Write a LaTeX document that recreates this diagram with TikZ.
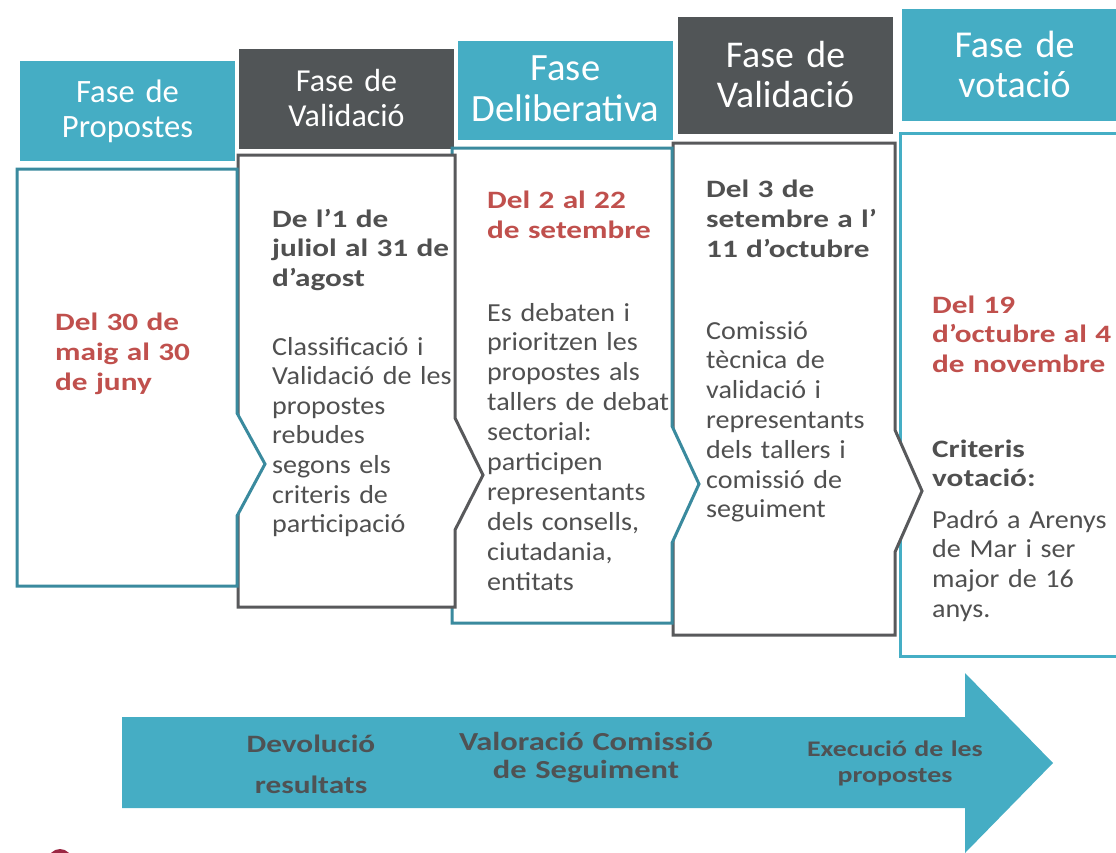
\documentclass[tikz,border=0pt]{standalone}
\usepackage{fontspec}
\setmainfont{Carlito}[UprightFeatures={FakeStretch=1.08},BoldFeatures={FakeStretch=1.25}]
\newfontfamily\hfont{Carlito}
\definecolor{hteal}{HTML}{45ADC4}
\definecolor{hgray}{HTML}{515557}
\definecolor{oteal}{HTML}{3A8A9E}
\definecolor{lteal}{HTML}{45AEC5}
\definecolor{ogray}{HTML}{58595B}
\definecolor{tred}{HTML}{C0504D}
\definecolor{tgray}{HTML}{505050}
\definecolor{agray}{HTML}{4F5254}
\definecolor{maroon}{HTML}{9B2743}
\begin{document}
\begin{tikzpicture}[x=1pt,y=-1pt,
  hbox/.style={rectangle, inner sep=0, outer sep=0, minimum width=215pt, minimum height=100pt},
  htext/.style={text=white, anchor=base, align=center, text width=230pt, inner sep=0},
  body/.style={line width=3pt, fill=white, line join=miter},
  btext/.style={anchor=base west, align=left, text width=230pt, inner sep=0, text=tgray},
  rtext/.style={anchor=base west, align=left, text width=230pt, inner sep=0, text=tred},
  atext/.style={anchor=base, align=center, text width=300pt, inner sep=0, text=agray}]
\useasboundingbox (0,0) rectangle (1116,852);

% headers
\node[hbox, fill=hteal] (h1) at (127.5,111) {};
\node[hbox, fill=hgray] (h2) at (346.5,99) {};
\node[hbox, fill=hteal, minimum height=99pt] (h3) at (565.5,90.5) {};
\node[hbox, fill=hgray, minimum height=117pt] (h4) at (785.5,75.5) {};
\node[hbox, fill=hteal, minimum width=218pt, minimum height=112pt] (h5) at (1011,65) {};

\node[htext, font=\hfont\fontsize{32.6}{35}\selectfont] (h1t) at (127.5,102) {Fase de\\Propostes};
\node[htext, font=\hfont\fontsize{32}{35}\selectfont] (h2t) at (346.5,91) {Fase de\\Validació};
\node[htext, font=\hfont\fontsize{38.6}{41}\selectfont] (h3t) at (565.5,80) {Fase\\Deliberativa};
\node[htext, font=\hfont\fontsize{37.8}{40}\selectfont] (h4t) at (785.5,67) {Fase de\\Validació};
\node[htext, font=\hfont\fontsize{38}{40}\selectfont] (h5t) at (1014.5,57) {Fase de\\votació};

% bodies (drawn right to left so earlier ones lie on top)
\path[body, draw=lteal] (1122,133) -- (900,133) -- (900,656) -- (1122,656);
\path[body, draw=ogray] (673,143) -- (895,143) -- (895,430) -- (922,491) -- (895,552) -- (895,635) -- (673,635) -- cycle;
\path[body, draw=oteal] (452,148) -- (672,148) -- (672,426) -- (699,484) -- (672,543) -- (672,623) -- (452,623) -- cycle;
\path[body, draw=ogray] (238,155) -- (455,155) -- (455,418) -- (483,475) -- (455,530) -- (455,607) -- (238,607) -- cycle;
\path[body, draw=oteal] (17,169) -- (237,169) -- (237,413) -- (265,464) -- (237,516) -- (237,586) -- (17,586) -- cycle;

% body texts
\node[rtext, font=\fontsize{25}{30}\selectfont\bfseries] (b1t) at (55,330) {Del 30 de\\maig al 30\\de juny};

\node[btext, font=\fontsize{25}{29.5}\selectfont\bfseries] (b2t) at (272,227) {De l’1 de\\juliol al 31 de\\d’agost};
\node[btext, font=\fontsize{26}{29.6}\selectfont] (b2d) at (272,355) {Classificació i\\Validació de les\\propostes\\rebudes\\segons els\\criteris de\\participació};

\node[rtext, font=\fontsize{25}{30}\selectfont\bfseries] (b3t) at (487,208) {Del 2 al 22\\de setembre};
\node[btext, font=\fontsize{26}{29.9}\selectfont] (b3d) at (487,321) {Es debaten i\\prioritzen les\\propostes als\\tallers de debat\\sectorial:\\participen\\representants\\dels consells,\\ciutadania,\\entitats};

\node[btext, font=\fontsize{25}{30}\selectfont\bfseries] (b4t) at (706,197) {Del 3 de\\setembre a l’\\11 d’octubre};
\node[btext, font=\fontsize{26}{29.8}\selectfont] (b4d) at (706,339) {Comissió\\tècnica de\\validació i\\representants\\dels tallers i\\comissió de\\seguiment};

\node[rtext, font=\fontsize{25}{29.5}\selectfont\bfseries] (b5t) at (932,313) {Del 19\\d’octubre al 4\\de novembre};
\node[btext, font=\fontsize{25}{29}\selectfont\bfseries] (b5c) at (932,457) {Criteris\\votació:};
\node[btext, font=\fontsize{26}{29.7}\selectfont] (b5d) at (932,528) {Padró a Arenys\\de Mar i ser\\major de 16\\anys.};

% bottom arrow
\fill[hteal] (122,717) -- (965,717) -- (965,673) -- (1053,763) -- (965,853) -- (965,808) -- (122,808) -- cycle;
\node[atext, font=\fontsize{25}{41}\selectfont\bfseries] (a1) at (311,752) {Devolució\\resultats};
\node[atext, font=\fontsize{26}{28}\selectfont\bfseries] (a2) at (586,750) {Valoració Comissió\\de Seguiment};
\node[atext, font=\fontsize{22.3}{26}\selectfont\bfseries] (a3) at (895,756) {Execució de les\\propostes};

\fill[maroon] (60,861) circle (12);
\end{tikzpicture}
\end{document}
